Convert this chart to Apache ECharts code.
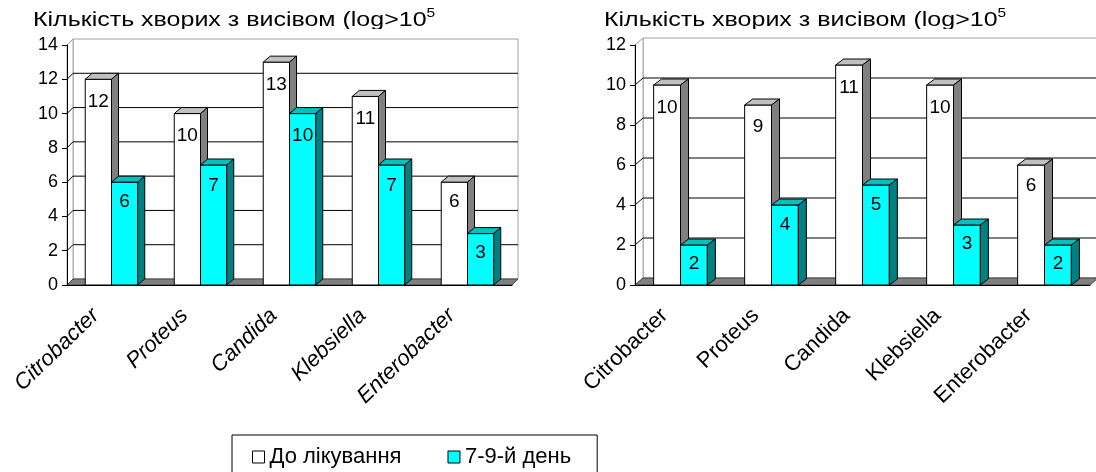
<!DOCTYPE html>
<html><head><meta charset="utf-8">
<script src="https://cdn.jsdelivr.net/npm/echarts@6/dist/echarts.min.js"></script>
<style>html,body{margin:0;padding:0;background:#fff}#c{width:1096px;height:472px}</style>
</head><body><div id="c"></div>
<script>
const categories = ['Citrobacter', 'Proteus', 'Candida', 'Klebsiella', 'Enterobacter'];
const beforeLeft = [12, 10, 13, 11, 6];
const afterLeft = [6, 7, 10, 7, 3];
const beforeRight = [10, 9, 11, 10, 6];
const afterRight = [2, 4, 5, 3, 2];
const ticksLeft = [0, 2, 4, 6, 8, 10, 12, 14];
const ticksRight = [0, 2, 4, 6, 8, 10, 12];
const seriesNames = ['До лікування', '7-9-й день'];
const titleMain = 'Кількість хворих з висівом (log>10';
const titleSup = '5';

const FF = '"Liberation Sans", Arial, sans-serif';
const WHITE = ['#ffffff', '#c0c0c0', '#808080'];
const CYAN = ['#00ffff', '#00c0c0', '#008080'];

function barRender(side, colors, depth) {
  return function (params, api) {
    const idx = api.value(0), v = api.value(1);
    const top = api.coord([idx, v]);
    const base = api.coord([idx, 0]);
    const bw = api.size([1, 0])[0];
    const w = bw * 0.295;
    const xl = side === 0 ? top[0] - w : top[0];
    const xr = xl + w;
    const yt = top[1], yb = base[1];
    const dx = depth[0], dy = depth[1];
    const h = yb - yt;
    return {
      type: 'group', children: [
        { type: 'rect', shape: { x: xl, y: yt, width: w, height: h }, style: { fill: colors[0], stroke: '#000', lineWidth: 1 } },
        { type: 'polygon', shape: { points: [[xl, yt], [xr, yt], [xr + dx, yt + dy], [xl + dx, yt + dy]] }, style: { fill: colors[1], stroke: '#000', lineWidth: 1 } },
        { type: 'polygon', shape: { points: [[xr, yt], [xr + dx, yt + dy], [xr + dx, yb + dy], [xr, yb]] }, style: { fill: colors[2], stroke: '#000', lineWidth: 1 } },
        { type: 'text', style: { text: String(v), x: (xl + xr) / 2, y: yt + 17.5 + 0.025 * h, align: 'center', verticalAlign: 'middle', font: '19px "Liberation Sans"', fill: '#000' } }
      ]
    };
  };
}

function wallRender(nCat, maxV, depth) {
  return function (params, api) {
    const v = api.value(1);
    const bw = api.size([1, 0])[0];
    const c0 = api.coord([0, v]);
    const x0 = c0[0] - bw / 2, x1 = x0 + bw * nCat;
    const y = c0[1];
    const dx = depth[0], dy = depth[1];
    const ch = [];
    if (params.dataIndex === 0) {
      const yTop = api.coord([0, maxV])[1];
      ch.push({ type: 'polygon', shape: { points: [[x0 + dx, yTop + dy], [x1 + dx, yTop + dy], [x1 + dx, y + dy], [x0 + dx, y + dy]] }, style: { fill: '#fff', stroke: '#a0a0a0', lineWidth: 1 } });
      ch.push({ type: 'polygon', shape: { points: [[x0, yTop], [x0 + dx, yTop + dy], [x0 + dx, y + dy], [x0, y]] }, style: { fill: '#fff', stroke: '#a0a0a0', lineWidth: 1 } });
      ch.push({ type: 'polygon', shape: { points: [[x0, y], [x1, y], [x1 + dx, y + dy], [x0 + dx, y + dy]] }, style: { fill: '#808080', stroke: '#404040', lineWidth: 1 } });
    } else if (v !== maxV) {
      ch.push({ type: 'polyline', shape: { points: [[x0, y], [x0 + dx, y + dy], [x1 + dx, y + dy]] }, style: { stroke: '#000', fill: null, lineWidth: 1 } });
    }
    return { type: 'group', children: ch };
  };
}

function mkSeries(gi, before, after, ticks, depthWall, depthBar) {
  const wallData = ticks.map(t => [0, t]);
  return [
    { type: 'custom', name: 'wall' + gi, xAxisIndex: gi, yAxisIndex: gi, z: 1, silent: true,
      renderItem: wallRender(categories.length, ticks[ticks.length - 1], depthWall), data: wallData },
    { type: 'custom', name: seriesNames[0], xAxisIndex: gi, yAxisIndex: gi, z: 2, itemStyle: { color: '#ffffff' },
      renderItem: barRender(0, WHITE, depthBar), data: before.map((v, i) => [i, v]) },
    { type: 'custom', name: seriesNames[1], xAxisIndex: gi, yAxisIndex: gi, z: 2, itemStyle: { color: '#00ffff' },
      renderItem: barRender(1, CYAN, depthBar), data: after.map((v, i) => [i, v]) }
  ];
}

function xAx(gi, italic, pad) {
  return {
    type: 'category', gridIndex: gi, data: categories, z: 5,
    axisLine: { lineStyle: { color: '#000', width: 1 } },
    axisTick: { length: 5, lineStyle: { color: '#000' } },
    axisLabel: { rotate: 44, margin: 12, color: '#000', fontSize: 22, fontFamily: FF, fontStyle: italic ? 'italic' : 'normal', padding: [0, pad, 0, 0], interval: 0 },
    splitLine: { show: false }
  };
}
function yAx(gi, ticks) {
  return {
    type: 'value', gridIndex: gi, min: 0, max: ticks[ticks.length - 1], interval: 2, z: 5,
    axisLine: { show: true, lineStyle: { color: '#000', width: 1 } },
    axisTick: { show: true, length: 5, lineStyle: { color: '#000' } },
    axisLabel: { margin: 9, color: '#000', fontSize: 18, fontFamily: FF },
    splitLine: { show: false }
  };
}

function titleEl(x) {
  return {
    type: 'text', x: x, y: 7, scaleX: 1.19, originX: 0, originY: 0, z: 50,
    style: {
      text: '{n|' + titleMain + '}{s|' + titleSup + '}', fill: '#000',
      verticalAlign: 'top', align: 'left',
      rich: {
        n: { fontSize: 21, lineHeight: 26, fontFamily: '"Liberation Sans"', fill: '#000' },
        s: { fontSize: 13, lineHeight: 14, verticalAlign: 'top', fontFamily: '"Liberation Sans"', fill: '#000' }
      }
    }
  };
}

const chart = echarts.init(document.getElementById('c'));
chart.setOption({
  animation: false,
  backgroundColor: '#fff',
  legend: {
    data: seriesNames, left: 232, top: 435, icon: 'rect', itemWidth: 12, itemHeight: 12, itemGap: 46,
    borderColor: '#000', borderWidth: 1, padding: [11, 26, 14, 20], selectedMode: false,
    itemStyle: { borderColor: '#000', borderWidth: 1 },
    textStyle: { fontSize: 22, color: '#000', fontFamily: FF }
  },
  graphic: [
    titleEl(33),
    titleEl(604),
    { type: 'rect', z: 100, shape: { x: 20, y: 29, width: 460, height: 8 }, style: { fill: '#fff' } },
    { type: 'rect', z: 100, shape: { x: 590, y: 29, width: 440, height: 7 }, style: { fill: '#fff' } }
  ],
  grid: [
    { left: 67, right: 584, top: 45, bottom: 187 },
    { left: 635, right: 6, top: 45, bottom: 187 }
  ],
  xAxis: [xAx(0, true, 22), xAx(1, false, 22)],
  yAxis: [yAx(0, ticksLeft), yAx(1, ticksRight)],
  series: [].concat(
    mkSeries(0, beforeLeft, afterLeft, ticksLeft, [6, -6], [7, -6]),
    mkSeries(1, beforeRight, afterRight, ticksRight, [8, -7], [8, -6])
  )
});
</script>
</body></html>
